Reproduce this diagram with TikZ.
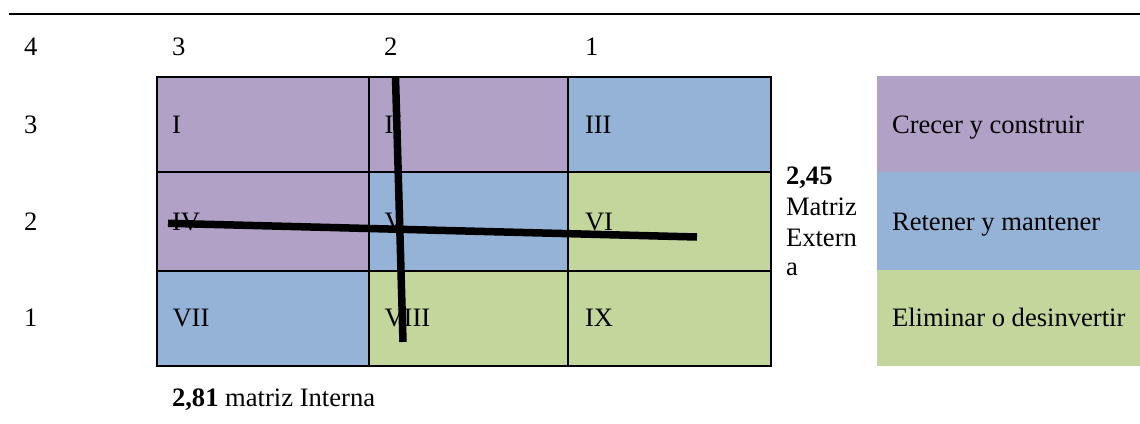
\documentclass[tikz,border=0pt]{standalone}
\usepackage{fontspec}
\setmainfont{Liberation Serif}
\definecolor{purp}{HTML}{B2A1C7}
\definecolor{blu}{HTML}{95B3D7}
\definecolor{grn}{HTML}{C3D69B}
\begin{document}
\begin{tikzpicture}[x=1pt,y=-1pt,
  txt/.style={anchor=base west, inner sep=0pt, outer sep=0pt,
              font=\fontsize{26.6}{31}\selectfont},
  cell/.style={draw=black, line width=1.5pt, fill=#1, anchor=north west,
               inner sep=0pt, outer sep=0pt},
  key/.style={fill=#1, anchor=north west, inner sep=0pt, outer sep=0pt,
              minimum width=263pt},
  bar/.style={line width=7.5pt, line cap=butt}]
\useasboundingbox (0,0) rectangle (1140,423);

% top rule
\coordinate (ruleL) at (9,14);
\coordinate (ruleR) at (1140,14);
\draw[line width=2pt] (ruleL) -- (ruleR);

% column and row scale
\node[txt] (c4) at (24,55) {4};
\node[txt] (c3) at (172,55) {3};
\node[txt] (c2) at (384,55) {2};
\node[txt] (c1) at (585,55) {1};
\node[txt] (r3) at (24,133.3) {3};
\node[txt] (r2) at (24,230) {2};
\node[txt] (r1) at (24,326.7) {1};

% the nine cells
\node[cell=purp, minimum width=212pt, minimum height=95pt] (k1) at (157,77)  {};
\node[cell=purp, minimum width=199pt, minimum height=95pt] (k2) at (369,77)  {};
\node[cell=blu,  minimum width=203pt, minimum height=95pt] (k3) at (568,77)  {};
\node[cell=purp, minimum width=212pt, minimum height=99pt] (k4) at (157,172) {};
\node[cell=blu,  minimum width=199pt, minimum height=99pt] (k5) at (369,172) {};
\node[cell=grn,  minimum width=203pt, minimum height=99pt] (k6) at (568,172) {};
\node[cell=blu,  minimum width=212pt, minimum height=95pt] (k7) at (157,271) {};
\node[cell=grn,  minimum width=199pt, minimum height=95pt] (k8) at (369,271) {};
\node[cell=grn,  minimum width=203pt, minimum height=95pt] (k9) at (568,271) {};

% cell labels
\node[txt] (l1) at (172,133.3) {I};
\node[txt] (l2) at (384.5,133.3) {II};
\node[txt] (l3) at (585,133.3) {III};
\node[txt] (l4) at (172,230) {IV};
\node[txt] (l5) at (384.5,230) {V};
\node[txt] (l6) at (585,230) {VI};
\node[txt] (l7) at (172.5,326.7) {VII};
\node[txt] (l8) at (384.5,326.7) {VIII};
\node[txt] (l9) at (585,326.7) {IX};

% external matrix score
\node[txt] (e1) at (786,184.3) {\textbf{2,45}};
\node[txt] (e2) at (786,215.7) {Matriz};
\node[txt] (e3) at (786,246) {Extern};
\node[txt] (e4) at (786,275.5) {a};

% internal matrix score
\node[txt] (iscore) at (172,406.7) {\textbf{2,81} matriz Interna};

% legend
\node[key=purp, minimum height=96pt] (g1) at (877,76)  {};
\node[key=blu,  minimum height=98pt] (g2) at (877,172) {};
\node[key=grn,  minimum height=96pt] (g3) at (877,270) {};
\node[txt] (t1) at (892,133.3) {Crecer y construir};
\node[txt] (t2) at (892,230) {Retener y mantener};
\node[txt] (t3) at (892,326.7) {Eliminar o desinvertir};

% crossing bars
\coordinate (vt) at (395.5,77);
\coordinate (vb) at (403,342);
\coordinate (hl) at (168,223.3);
\coordinate (hr) at (697,237);
\draw[bar] (vt) -- (vb);
\draw[bar] (hl) -- (hr);
\end{tikzpicture}
\end{document}
